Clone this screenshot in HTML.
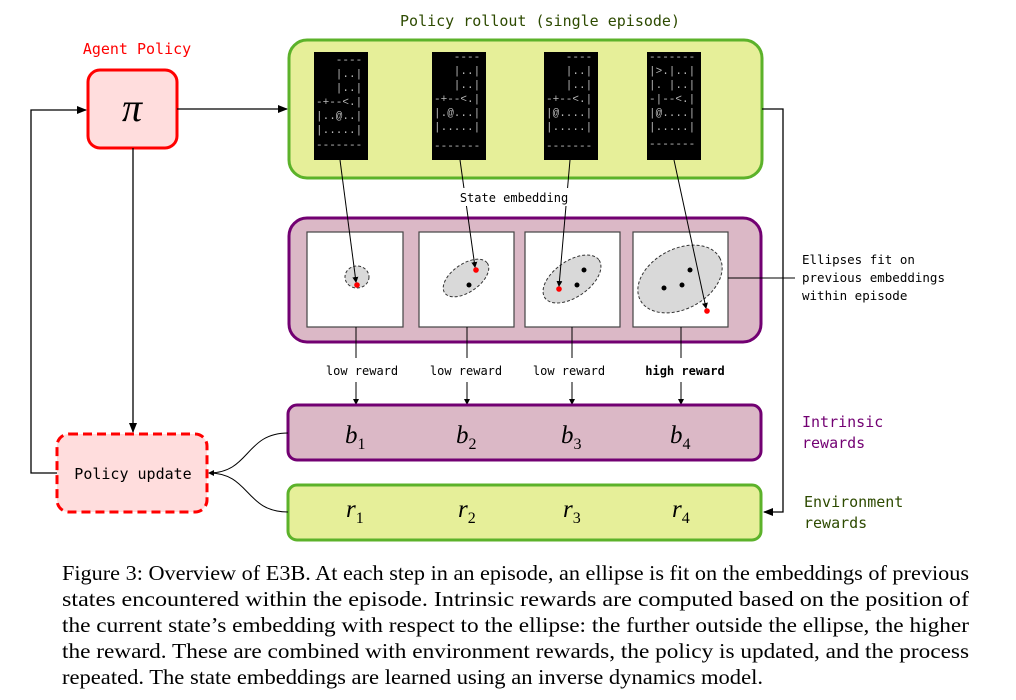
<!DOCTYPE html>
<html><head><meta charset="utf-8"><style>
html,body{margin:0;padding:0;background:#fff;}
svg{display:block;}
.m{font-family:"DejaVu Sans Mono","Liberation Mono",monospace;}
.t{font-family:"Liberation Mono",monospace;font-size:11px;fill:#bbb;}
.s{font-family:"Liberation Serif",serif;font-style:italic;font-size:25px;}
.c{font-family:"Liberation Serif",serif;font-size:21px;fill:#000;}
</style></head><body>
<svg width="1016" height="700" viewBox="0 0 1016 700" xmlns="http://www.w3.org/2000/svg">
<defs><marker id="a" markerWidth="10" markerHeight="10" refX="9" refY="5" orient="auto" markerUnits="userSpaceOnUse"><path d="M0,1 L10,5 L0,9 z" fill="#000"/></marker>
<marker id="sa" markerWidth="6" markerHeight="6" refX="5" refY="3" orient="auto" markerUnits="userSpaceOnUse"><path d="M0,0 L6,3 L0,6 z" fill="#000"/></marker></defs>

<text x="137" y="54" class="m" font-size="15" fill="#f00" text-anchor="middle">Agent Policy</text>
<rect x="88" y="70" width="89" height="78" rx="12" fill="#fdd" stroke="#f00" stroke-width="3"/>
<text x="132" y="121" font-family="Liberation Serif,serif" font-style="italic" font-size="40" text-anchor="middle">π</text>

<text x="540" y="26" class="m" font-size="15" fill="#2d4a00" text-anchor="middle">Policy rollout (single episode)</text>
<rect x="289" y="40" width="473" height="138" rx="18" fill="#e6ef99" stroke="#5cb22a" stroke-width="3"/>

<g>
<rect x="314" y="52" width="54" height="108" fill="#000"/>
<rect x="432" y="52" width="54" height="108" fill="#000"/>
<rect x="544" y="52" width="54" height="108" fill="#000"/>
<rect x="647" y="52" width="54" height="108" fill="#000"/>
<g class="t">
<text x="316" y="63" xml:space="preserve">   ----</text><text x="316" y="77" xml:space="preserve">   |..|</text><text x="316" y="91" xml:space="preserve">   |..|</text><text x="316" y="105" xml:space="preserve">-+--&lt;.|</text><text x="316" y="119" xml:space="preserve">|..@..|</text><text x="316" y="133" xml:space="preserve">|.....|</text><text x="316" y="148">-------</text>
<text x="434" y="60" xml:space="preserve">   ----</text><text x="434" y="74" xml:space="preserve">   |..|</text><text x="434" y="88" xml:space="preserve">   |..|</text><text x="434" y="102" xml:space="preserve">-+--&lt;.|</text><text x="434" y="116" xml:space="preserve">|.@...|</text><text x="434" y="130" xml:space="preserve">|.....|</text><text x="434" y="149">-------</text>
<text x="546" y="60" xml:space="preserve">   ----</text><text x="546" y="74" xml:space="preserve">   |..|</text><text x="546" y="88" xml:space="preserve">   |..|</text><text x="546" y="102" xml:space="preserve">-+--&lt;.|</text><text x="546" y="116" xml:space="preserve">|@....|</text><text x="546" y="130" xml:space="preserve">|.....|</text><text x="546" y="149">-------</text>
<text x="649" y="60">-------</text><text x="649" y="74" xml:space="preserve">|&gt;.|..|</text><text x="649" y="88" xml:space="preserve">|. |..|</text><text x="649" y="102" xml:space="preserve">-|--&lt;.|</text><text x="649" y="116" xml:space="preserve">|@....|</text><text x="649" y="130" xml:space="preserve">|.....|</text><text x="649" y="147">-------</text>
</g></g>

<rect x="289" y="218" width="472" height="124" rx="18" fill="#dbb8c6" stroke="#720072" stroke-width="3"/>
<g fill="#fff" stroke="#444" stroke-width="1.2">
<rect x="307" y="232" width="96" height="95"/>
<rect x="419" y="232" width="95" height="95"/>
<rect x="525" y="232" width="95" height="95"/>
<rect x="633" y="232" width="95" height="95"/>
</g>
<g fill="#d9d9d9" stroke="#333" stroke-dasharray="3,2" stroke-width="1">
<ellipse cx="357" cy="277" rx="12" ry="11"/>
<ellipse cx="466" cy="278" rx="26" ry="14" transform="rotate(-35 466 278)"/>
<ellipse cx="572" cy="279" rx="33" ry="18" transform="rotate(-35 572 279)"/>
<ellipse cx="680" cy="279" rx="45" ry="30" transform="rotate(-28 680 279)"/>
</g>
<g fill="#000"><circle cx="469" cy="285" r="2.5"/><circle cx="584" cy="270" r="2.5"/><circle cx="577" cy="285" r="2.5"/><circle cx="690" cy="270" r="2.5"/><circle cx="664" cy="288" r="2.5"/><circle cx="682" cy="285" r="2.5"/></g>
<g fill="#f00"><circle cx="357" cy="285" r="2.8"/><circle cx="476" cy="270" r="2.8"/><circle cx="559" cy="289" r="2.8"/><circle cx="707" cy="311" r="2.8"/></g>
<g stroke="#000" stroke-width="1" marker-end="url(#sa)" fill="none">
<line x1="340" y1="160" x2="356" y2="282"/>
<line x1="460" y1="160" x2="475" y2="267"/>
<line x1="570" y1="160" x2="559" y2="286"/>
<line x1="674" y1="160" x2="706" y2="308"/>
</g>
<rect x="450" y="188" width="128" height="18" fill="#fff"/>
<text x="514" y="202" class="m" font-size="12" text-anchor="middle">State embedding</text>

<line x1="728" y1="278" x2="795" y2="278" stroke="#000"/>
<g class="m" font-size="12.5"><text x="802" y="264">Ellipses fit on</text><text x="802" y="282">previous embeddings</text><text x="802" y="300">within episode</text></g>

<g stroke="#000" stroke-width="1" fill="none">
<line x1="356" y1="327" x2="356" y2="358"/><line x1="356" y1="382" x2="356" y2="404" marker-end="url(#sa)"/>
<line x1="467" y1="327" x2="467" y2="358"/><line x1="467" y1="382" x2="467" y2="404" marker-end="url(#sa)"/>
<line x1="572" y1="327" x2="572" y2="358"/><line x1="572" y1="382" x2="572" y2="404" marker-end="url(#sa)"/>
<line x1="681" y1="327" x2="681" y2="358"/><line x1="681" y1="382" x2="681" y2="404" marker-end="url(#sa)"/>
</g>
<g class="m" font-size="12" text-anchor="middle"><text x="362" y="375">low reward</text><text x="466" y="375">low reward</text><text x="569" y="375">low reward</text><text x="685" y="375" font-weight="bold">high reward</text></g>

<rect x="288" y="405" width="473" height="55" rx="9" fill="#dbb8c6" stroke="#720072" stroke-width="3"/>
<rect x="288" y="485" width="473" height="55" rx="9" fill="#e6ef99" stroke="#5cb22a" stroke-width="3"/>
<g class="s"><text x="345" y="443">b<tspan font-size="16" dy="6" font-style="normal">1</tspan></text><text x="456" y="443">b<tspan font-size="16" dy="6" font-style="normal">2</tspan></text><text x="561" y="443">b<tspan font-size="16" dy="6" font-style="normal">3</tspan></text><text x="670" y="443">b<tspan font-size="16" dy="6" font-style="normal">4</tspan></text>
<text x="346" y="517">r<tspan font-size="16" dy="6" font-style="normal">1</tspan></text><text x="458" y="517">r<tspan font-size="16" dy="6" font-style="normal">2</tspan></text><text x="563" y="517">r<tspan font-size="16" dy="6" font-style="normal">3</tspan></text><text x="672" y="517">r<tspan font-size="16" dy="6" font-style="normal">4</tspan></text></g>
<g class="m" font-size="15"><text x="802" y="427" fill="#720072">Intrinsic</text><text x="802" y="448" fill="#720072">rewards</text><text x="804" y="507" fill="#2d4a00">Environment</text><text x="804" y="528" fill="#2d4a00">rewards</text></g>

<rect x="57" y="434" width="150" height="78" rx="12" fill="#fdd" stroke="#f00" stroke-width="3" stroke-dasharray="9,5"/>
<text x="133" y="479" class="m" font-size="15" text-anchor="middle">Policy update</text>

<g stroke="#000" stroke-width="1.3" fill="none">
<line x1="177" y1="109" x2="287" y2="109" marker-end="url(#a)"/>
<line x1="133" y1="148" x2="133" y2="432" marker-end="url(#a)"/>
<polyline points="57,473 31,473 31,110 86,110" marker-end="url(#a)"/>
<polyline points="762,109 783,109 783,512 764,512" marker-end="url(#a)"/>
</g>
<g stroke="#000" stroke-width="1" fill="none">
<path d="M288,433 C245,433 250,473 209,473" marker-end="url(#sa)"/>
<path d="M288,512 C245,512 250,473 209,473"/>
</g>

<text class="c" x="62" y="580" textLength="907" lengthAdjust="spacingAndGlyphs">Figure 3: Overview of E3B. At each step in an episode, an ellipse is fit on the embeddings of previous</text>
<text class="c" x="62" y="606" textLength="907" lengthAdjust="spacingAndGlyphs">states encountered within the episode.  Intrinsic rewards are computed based on the position of</text>
<text class="c" x="62" y="632" textLength="907" lengthAdjust="spacingAndGlyphs">the current state’s embedding with respect to the ellipse: the further outside the ellipse, the higher</text>
<text class="c" x="62" y="658" textLength="907" lengthAdjust="spacingAndGlyphs">the reward. These are combined with environment rewards, the policy is updated, and the process</text>
<text class="c" x="62" y="684" textLength="701" lengthAdjust="spacingAndGlyphs">repeated. The state embeddings are learned using an inverse dynamics model.</text>
</svg>
</body></html>
